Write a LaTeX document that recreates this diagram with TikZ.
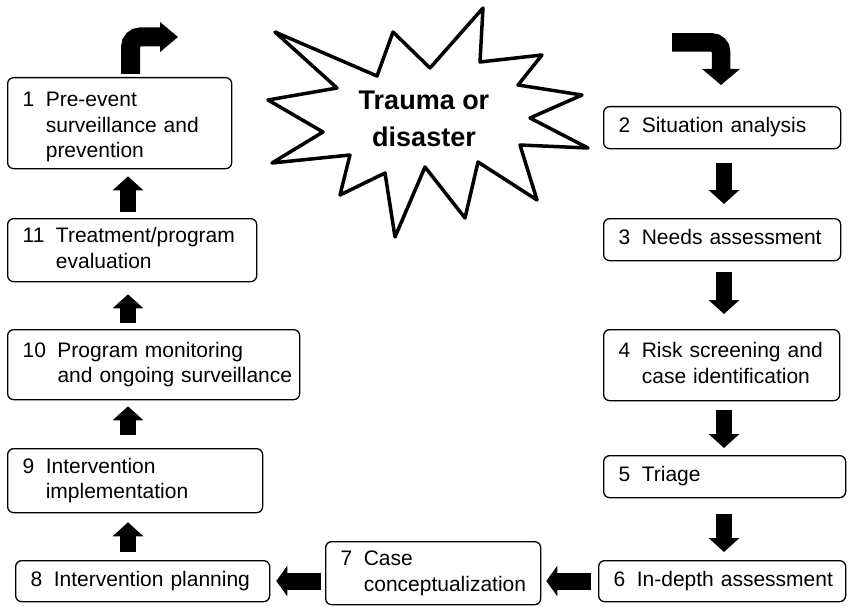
\documentclass[tikz,border=0pt]{standalone}
\usepackage{fontspec}
\setmainfont{Liberation Sans}
\usetikzlibrary{arrows.meta}
\newcommand\boxfont{\fontsize{21}{25.5}\selectfont}
\newcommand\steptext[2]{\begin{tabular}{@{\hspace{7pt}}l@{\hspace{11.5pt}}l@{}}#1 & #2\end{tabular}}
\begin{document}
\begin{tikzpicture}[x=1pt,y=-1pt,
  box/.style={draw=black, line width=1.3pt, rounded corners=6pt, anchor=north west,
    inner xsep=8pt, inner ysep=0pt, align=left, font=\boxfont},
  varrow/.style={line width=16pt, -{Triangle[width=30pt,length=14pt]}},
  harrow/.style={line width=17pt, -{Triangle[width=30pt,length=11pt]}},
  bendarrow/.style={line width=19pt, rounded corners=9.5pt},
]
\useasboundingbox (0,0) rectangle (848,607);

% left column
\node[box, minimum width=224pt, minimum height=91pt, text width=208pt] (n1) at (7,77)
  {\raisebox{-4pt}[\height][\depth]{\steptext{1}{Pre-event\\ & surveillance and\\ & prevention}}};
\node[box, minimum width=249pt, minimum height=63pt, text width=233pt] (n11) at (7,218)
  {\steptext{11}{Treatment/program\\ & evaluation}};
\node[box, minimum width=292pt, minimum height=70pt, text width=276pt] (n10) at (7,329)
  {\steptext{10}{Program monitoring\\ & and ongoing surveillance}};
\node[box, minimum width=255pt, minimum height=64pt, text width=239pt] (n9) at (7,448)
  {\steptext{9}{Intervention\\ & implementation}};
% bottom row
\node[box, minimum width=254pt, minimum height=41pt, text width=238pt] (n8) at (15,560)
  {\steptext{8}{Intervention planning}};
\node[box, minimum width=215pt, minimum height=63pt, text width=199pt] (n7) at (325,541)
  {\steptext{7}{Case\\ & conceptualization}};
\node[box, minimum width=247pt, minimum height=41pt, text width=231pt] (n6) at (598,560)
  {\steptext{6}{In-depth assessment}};
% right column
\node[box, minimum width=237pt, minimum height=42pt, text width=221pt] (n2) at (603,106)
  {\steptext{2}{Situation analysis}};
\node[box, minimum width=237pt, minimum height=42pt, text width=221pt] (n3) at (603,218)
  {\steptext{3}{Needs assessment}};
\node[box, minimum width=236pt, minimum height=71pt, text width=220pt] (n4) at (603,329)
  {\steptext{4}{Risk screening and\\ & case identification}};
\node[box, minimum width=242pt, minimum height=42pt, text width=226pt] (n5) at (603,455)
  {\steptext{5}{Triage}};

% star
\draw[line width=3.5pt, line join=round, fill=white]
  (275,32) -- (377,76) -- (393,32) -- (430,68) -- (483,8) -- (480,62) -- (542,55)
  -- (518,85) -- (582,95) -- (530,118) -- (588,148) -- (520,145) -- (537,200)
  -- (478,162) -- (465,218) -- (425,167) -- (395,237) -- (385,173) -- (340,195)
  -- (350,155) -- (272,163) -- (323,132) -- (268,100) -- (337,88) -- cycle;
\node[font=\bfseries\fontsize{27}{37}\selectfont, align=center] (event) at (424,119) {Trauma or\\disaster};

% helper coordinates
\coordinate (lx) at (128,0);
\coordinate (rx) at (724,0);
\coordinate (hy) at (0,581);
\coordinate (tlx) at (130.7,0);
\coordinate (tlend) at (178,37);
\coordinate (trstart) at (672,42.5);
\coordinate (trx) at (721,0);

% up arrows
\draw[varrow, shorten <=6pt, shorten >=7pt] (n11.north -| lx) -- (n1.south -| lx);
\draw[varrow, shorten <=6pt, shorten >=12pt] (n10.north -| lx) -- (n11.south -| lx);
\draw[varrow, shorten <=13pt, shorten >=6pt] (n9.north -| lx) -- (n10.south -| lx);
\draw[varrow, shorten <=8pt, shorten >=9pt] (n8.north -| lx) -- (n9.south -| lx);
% down arrows
\draw[varrow, shorten <=14pt, shorten >=14pt] (n2.south -| rx) -- (n3.north -| rx);
\draw[varrow, shorten <=11pt, shorten >=15pt] (n3.south -| rx) -- (n4.north -| rx);
\draw[varrow, shorten <=9pt, shorten >=7pt] (n4.south -| rx) -- (n5.north -| rx);
\draw[varrow, shorten <=16pt, shorten >=8pt] (n5.south -| rx) -- (n6.north -| rx);
% left arrows
\draw[harrow, shorten <=7pt, shorten >=5pt] (n6.west |- hy) -- (n7.east |- hy);
\draw[harrow, shorten <=4pt, shorten >=6pt] (n7.west |- hy) -- (n8.east |- hy);
% bent arrows
\draw[bendarrow, -{Triangle[width=29pt,length=18pt]}, shorten <=3pt] (n1.north -| tlx) |- (tlend);
\draw[bendarrow, line width=18.5pt, rounded corners=9pt, -{Triangle[width=37pt,length=16pt]}, shorten >=21pt] (trstart) -| (n2.north -| trx);
\end{tikzpicture}
\end{document}
